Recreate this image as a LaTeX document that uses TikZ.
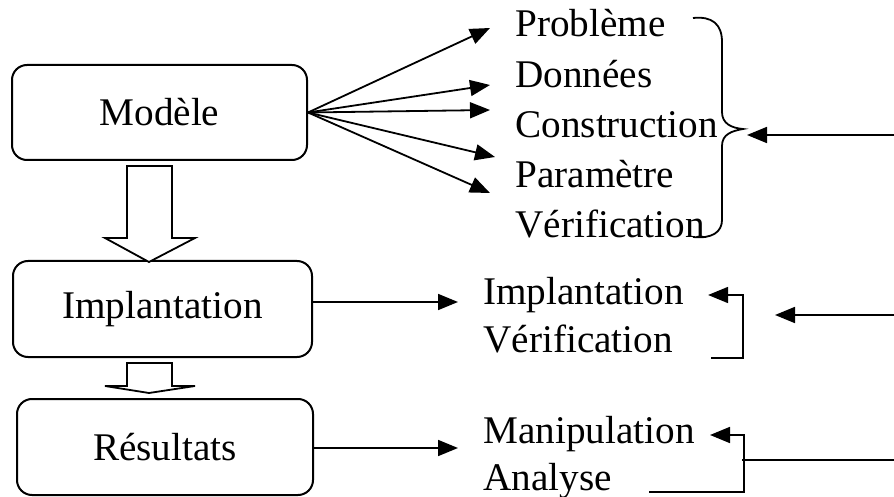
\documentclass[tikz,border=0pt]{standalone}
\usepackage{fontspec}
\setmainfont{Liberation Serif}
\usetikzlibrary{arrows.meta}

\begin{document}
\begin{tikzpicture}[x=0.5pt,y=-0.5pt,
  every node/.style={font=\fontsize{19.6}{24}\selectfont},
  box/.style={draw, line width=1pt, rounded corners=7.5pt, minimum width=147.5pt, minimum height=47.5pt},
  item/.style={anchor=base west, inner sep=0pt},
  line/.style={line width=0.9pt},
  arr/.style={line width=0.9pt, -{Triangle[length=10pt,width=8pt]}},
  hollow/.style={draw, line width=0.9pt, fill=white, line join=miter}]
\useasboundingbox (0,0) rectangle (894,497);
%
\node [box] (modele) at (159.5,112.5) {Modèle};
\node [box, minimum width=149.5pt, minimum height=48pt] (implant) at (162.5,309) {Implantation};
\node [box, minimum width=148pt, minimum height=48pt] (result) at (165,447) {Résultats};
%
\node [item] (prob) at (515,37) {Problème};
\node [item] (donn) at (515,88) {Données};
\node [item] (cons) at (515,138) {Construction};
\node [item] (param) at (515,188) {Paramètre};
\node [item] (verif) at (515,238) {Vérification};
\node [item] (timpl) at (483,305) {Implantation};
\node [item] (tverif) at (483,352) {Vérification};
\node [item] (tmanip) at (483,443) {Manipulation};
\node [item] (tanal) at (483,490) {Analyse};
%
\draw [arr] (modele.east) -- ([shift={(-12.5pt,4.5pt)}]prob.base west);
\draw [arr] (modele.east) -- ([shift={(-12.5pt,1.5pt)}]donn.base west);
\draw [arr] (modele.east) -- ([shift={(-12.5pt,14pt)}]cons.base west);
\draw [arr] (modele.east) -- ([shift={(-10pt,15.5pt)}]param.base west);
\draw [arr] (modele.east) -- ([shift={(-12.5pt,22.5pt)}]verif.base west);
\draw [arr] ([yshift=3.5pt]implant.east) -- ([shift={(-12.5pt,1.5pt)}]timpl.base west);
\draw [arr] ([yshift=-0.5pt]result.east) -- ([shift={(-12.5pt,-2.5pt)}]tmanip.base west);
%
\draw [hollow] (127,166) -- (172,166) -- (172,238) -- (195,238) -- (149,262) -- (105,238) -- (127,238) -- cycle;
\draw [hollow] (127,363) -- (172,363) -- (172,386) -- (195,386) -- (149,393) -- (105,386) -- (127,386) -- cycle;
%
\draw [line] (693,18) .. controls (712,16) and (722,24) .. (722,42) -- (722,112)
  .. controls (722,124) and (732,128) .. (743,129)
  .. controls (732,131) and (722,134) .. (722,146) -- (722,220)
  .. controls (722,232) and (712,239) .. (693,237);
\coordinate (in1) at (894,135);
\coordinate (cusp) at (747,135);
\draw [arr] (in1) -- (cusp);
%
\draw [arr] ([shift={(19pt,-3pt)}]tverif.base east) -- ++(32,0) |- ([shift={(12pt,5pt)}]timpl.base east);
\coordinate (in2) at (894,315);
\coordinate (out2) at (775,315);
\draw [arr] (in2) -- (out2);
%
\draw [arr] ([shift={(18.5pt,-1pt)}]tanal.base east) -- ++(95,0) |- ([shift={(7.5pt,4pt)}]tmanip.base east);
\coordinate (in3) at (894,460);
\coordinate (join3) at (742,460);
\draw [line] (in3) -- (join3);
%
\end{tikzpicture}
\end{document}
